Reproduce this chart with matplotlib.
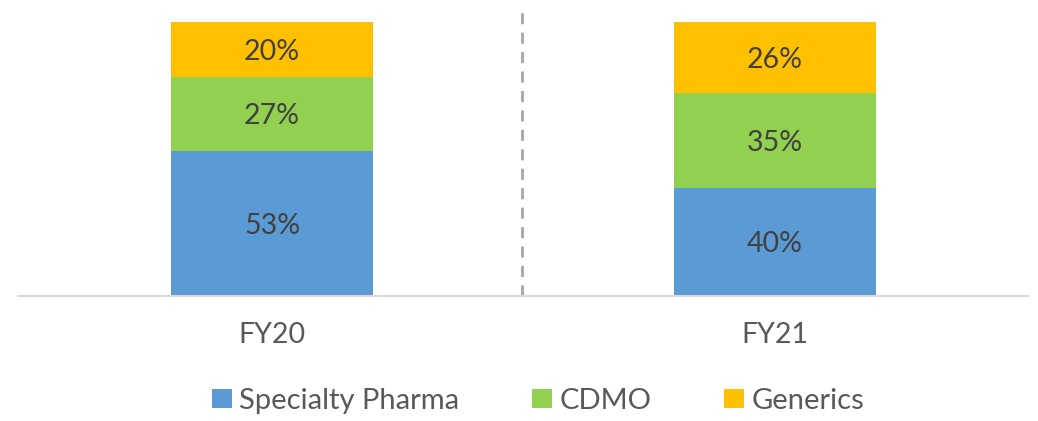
import matplotlib
matplotlib.use("Agg")
import matplotlib.pyplot as plt
from matplotlib.patches import Patch
import numpy as np

categories = ["FY20", "FY21"]
series_names = ["Specialty Pharma", "CDMO", "Generics"]
specialty = [53, 40]
cdmo = [27, 35]
generics = [20, 26]
colors = ["#5B9BD5", "#92D050", "#FFC000"]
label_color = "#404040"
axis_text_color = "#595959"

plt.rcParams['font.family'] = ['Lato', 'DejaVu Sans']

fig = plt.figure(figsize=(10.38, 4.21), dpi=100)
ax = fig.add_axes([18/1038, (421-296)/421, 1010/1038, 286/421])

x = np.arange(len(categories))
data = np.array([specialty, cdmo, generics], dtype=float)
totals = data.sum(axis=0)
shares = data / totals * 100  # 100% stacked

bottom = np.zeros(len(categories))
for vals, shr, col in zip(data, shares, colors):
    ax.bar(x, shr, width=0.4, bottom=bottom, color=col, edgecolor="none")
    for xi, b, v, s in zip(x, bottom, vals, shr):
        ax.text(xi, b + s/2, f"{int(v)}%", ha="center", va="center_baseline",
                fontsize=20.5, color=label_color)
    bottom += shr

ax.set_xlim(-0.505, 1.503)
ax.set_ylim(0, 104.4)
ax.axvline(0.497, color="#A6A6A6", linestyle=(0, (4, 3)), linewidth=2)

for s in ["top", "right", "left"]:
    ax.spines[s].set_visible(False)
ax.spines["bottom"].set_color("#D9D9D9")
ax.spines["bottom"].set_linewidth(1.5)
ax.set_yticks([])
ax.set_xticks(x)
ax.set_xticklabels(categories, fontsize=20.5, color=axis_text_color)
ax.tick_params(axis="x", length=0, pad=19)

handles = [Patch(facecolor=c, edgecolor="none") for c in colors]
fig.legend(handles, series_names, loc="center", bbox_to_anchor=(538/1038, 1 - 401/421),
           ncol=3, frameon=False, fontsize=21, labelcolor=axis_text_color,
           handlelength=0.68, handleheight=0.62, handletextpad=0.25, columnspacing=2.5,
           borderpad=0, borderaxespad=0)

fig.savefig("out.png", dpi=100)
